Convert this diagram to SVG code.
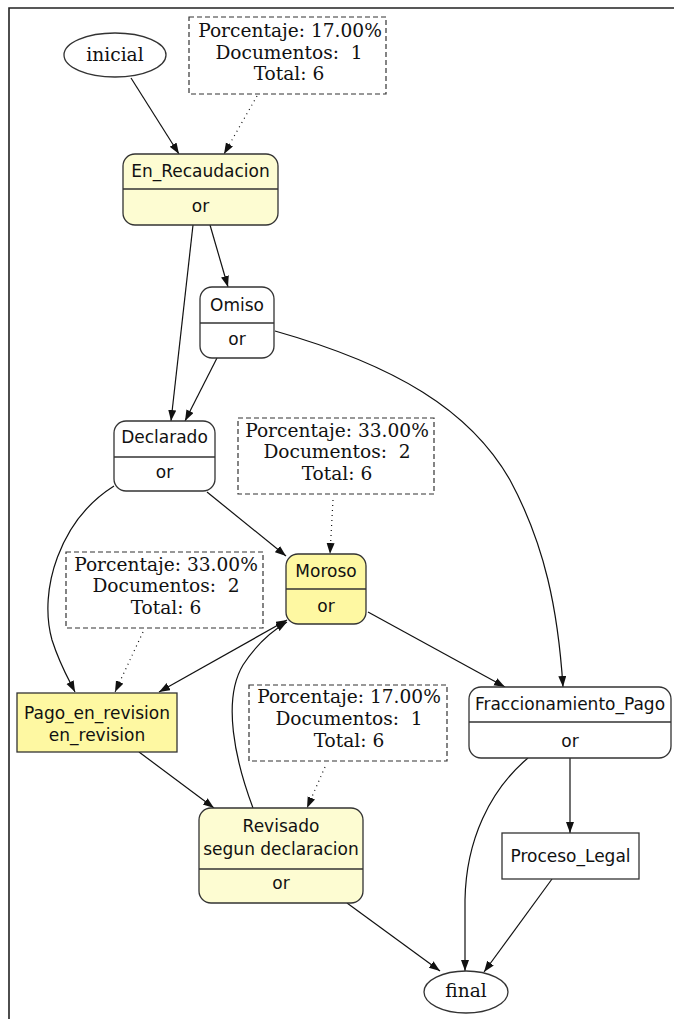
<svg xmlns="http://www.w3.org/2000/svg" width="674" height="1019" viewBox="0 0 674 1019">
<defs>
<marker id="arr" markerWidth="12" markerHeight="9" refX="11" refY="4" orient="auto-start-reverse" markerUnits="userSpaceOnUse"><path d="M0,0 L11,4 L0,8 z" fill="#111"/></marker>
</defs>
<style>
.node{stroke:#333;stroke-width:1.3}
.pale{fill:#fdfcd2}
.yel{fill:#fef8a2}
.white{fill:#fff}
.div{stroke:#333;stroke-width:1.3}
.note{fill:none;stroke:#333;stroke-width:1.2;stroke-dasharray:5,3}
.sans{font-family:"DejaVu Sans",sans-serif;font-size:17px;fill:#111;text-anchor:middle}
.serif{font-family:"DejaVu Serif",serif;font-size:18.6px;fill:#111;text-anchor:middle;white-space:pre}
.e{fill:none;stroke:#111;stroke-width:1.2;marker-end:url(#arr)}
.d{stroke-dasharray:1,4}
.frame{stroke:#222;stroke-width:1.6;fill:none}
</style>
<path class="frame" d="M9,1019 L9,8 L674,8"/>
<g id="connectors">
<path class="e" d="M131,78 L179,154"/>
<path class="e d" d="M257,96 L224,154"/>
<path class="e" d="M193,225 L171,421"/>
<path class="e" d="M210,225 L228,287"/>
<path class="e" d="M217,358 L185,421"/>
<path class="e" d="M275,331 C395,365 470,410 510,480 C545,545 558,610 563,687"/>
<path class="e" d="M114,486 C60,520 38,590 52,640 C60,665 68,678 75,692"/>
<path class="e" d="M207,492 L286,556"/>
<path class="e d" d="M333,500 L330,554"/>
<path class="e" d="M159,692 L287,620" style="marker-start:url(#arr)"/>
<path class="e" d="M368,612 L505,687"/>
<path class="e d" d="M143,632 L115,692"/>
<path class="e" d="M139,752 L214,808"/>
<path class="e" d="M253,808 C235,760 222,700 243,665 C256,645 270,632 287,622"/>
<path class="e d" d="M325,767 L307,808"/>
<path class="e" d="M347,903 L440,971"/>
<path class="e" d="M528,758 C490,790 466,840 465,900 L465,971"/>
<path class="e" d="M570,758 L570,833"/>
<path class="e" d="M552,879 L484,972"/>
</g>
<g id="inicial">
<ellipse class="node white" cx="115" cy="55" rx="51" ry="22"/>
<text class="serif" x="115" y="61">inicial</text>
</g>
<g id="note1">
<rect class="note" x="189" y="17" width="197" height="77"/>
<text class="serif" x="290" y="37">Porcentaje: 17.00%</text>
<text class="serif" x="289" y="59">Documentos:  1</text>
<text class="serif" x="289" y="80">Total: 6</text>
</g>
<g id="En_Recaudacion">
<rect class="node pale" x="123" y="154" width="155" height="71" rx="12"/>
<line class="div" x1="123" y1="189" x2="278" y2="189"/>
<text class="sans" x="200.5" y="177">En_Recaudacion</text>
<text class="sans" x="200.5" y="212">or</text>
</g>
<g id="Omiso">
<rect class="node white" x="200" y="287" width="74" height="71" rx="12"/>
<line class="div" x1="200" y1="323" x2="274" y2="323"/>
<text class="sans" x="237" y="311">Omiso</text>
<text class="sans" x="237" y="345">or</text>
</g>
<g id="Declarado">
<rect class="node white" x="114" y="421" width="101" height="70" rx="12"/>
<line class="div" x1="114" y1="457" x2="215" y2="457"/>
<text class="sans" x="164.5" y="443">Declarado</text>
<text class="sans" x="164.5" y="478">or</text>
</g>
<g id="note2">
<rect class="note" x="238" y="418" width="196" height="76"/>
<text class="serif" x="337" y="437">Porcentaje: 33.00%</text>
<text class="serif" x="337" y="458">Documentos:  2</text>
<text class="serif" x="337" y="480">Total: 6</text>
</g>
<g id="Moroso">
<rect class="node yel" x="286" y="554" width="80" height="70" rx="12"/>
<line class="div" x1="286" y1="589" x2="366" y2="589"/>
<text class="sans" x="326" y="577">Moroso</text>
<text class="sans" x="326" y="612">or</text>
</g>
<g id="note3">
<rect class="note" x="66" y="552" width="197" height="76"/>
<text class="serif" x="166" y="571">Porcentaje: 33.00%</text>
<text class="serif" x="166" y="592">Documentos:  2</text>
<text class="serif" x="166" y="614">Total: 6</text>
</g>
<g id="Pago_en_revision">
<rect class="node yel" x="17" y="693" width="160" height="59"/>
<text class="sans" x="97" y="719">Pago_en_revision</text>
<text class="sans" x="97" y="741">en_revision</text>
</g>
<g id="note4">
<rect class="note" x="249" y="685" width="198" height="76"/>
<text class="serif" x="349" y="703">Porcentaje: 17.00%</text>
<text class="serif" x="349" y="725">Documentos:  1</text>
<text class="serif" x="349" y="747">Total: 6</text>
</g>
<g id="Revisado">
<rect class="node pale" x="199" y="808" width="164" height="95" rx="12"/>
<line class="div" x1="199" y1="869" x2="363" y2="869"/>
<text class="sans" x="281" y="832">Revisado</text>
<text class="sans" x="281" y="855">segun declaracion</text>
<text class="sans" x="281" y="889">or</text>
</g>
<g id="Fraccionamiento_Pago">
<rect class="node white" x="469" y="687" width="202" height="71" rx="12"/>
<line class="div" x1="469" y1="722" x2="671" y2="722"/>
<text class="sans" x="570" y="710">Fraccionamiento_Pago</text>
<text class="sans" x="570" y="747">or</text>
</g>
<g id="Proceso_Legal">
<rect class="node white" x="502" y="833" width="137" height="46"/>
<text class="sans" x="570.5" y="862">Proceso_Legal</text>
</g>
<g id="final">
<ellipse class="node white" cx="466" cy="992" rx="42" ry="21"/>
<text class="serif" x="466" y="997">final</text>
</g>
</svg>
